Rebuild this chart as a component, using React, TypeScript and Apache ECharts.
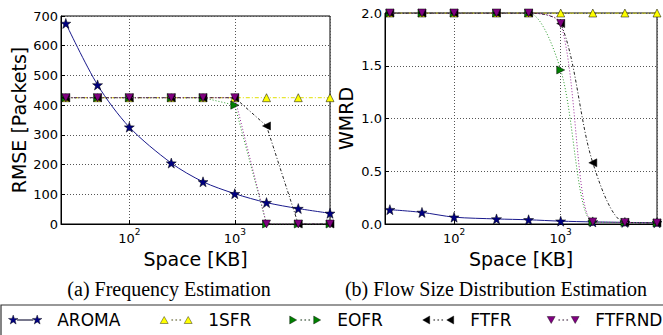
import React, { useEffect, useRef } from "react";
import * as echarts from "echarts";

const xValues = [25, 50, 100, 250, 500, 1000, 2000, 4000, 8000];

const rmseAROMA = [675, 468, 326, 205, 142, 102, 72, 52, 36];
const rmse1SFR = [425, 425, 425, 425, 425, 425, 425, 425, 425];
const rmseEOFR = [425, 425, 425, 425, 425, 400, 0, 0, 0];
const rmseFTFR = [425, 425, 425, 425, 425, 425, 330, 0, 0];
const rmseFTFRND = [425, 425, 425, 425, 425, 425, 0, 0, 0];

const wmrdAROMA = [0.136, 0.11, 0.065, 0.048, 0.04, 0.027, 0.02, 0.015, 0.012];
const wmrd1SFR = [2, 2, 2, 2, 2, 2, 2, 2, 2];
const wmrdEOFR = [2, 2, 2, 2, 2, 1.46, 0.02, 0.015, 0.01];
const wmrdFTFR = [2, 2, 2, 2, 2, 1.9, 0.58, 0.015, 0.01];
const wmrdFTFRND = [2, 2, 2, 2, 2, 1.9, 0.02, 0.015, 0.01];

const seriesNames = ["AROMA", "1SFR", "EOFR", "FTFR", "FTFRND"];
const rmseTickValues = [0, 100, 200, 300, 400, 500, 600, 700];
const wmrdTickValues = [0, 0.5, 1.0, 1.5, 2.0];
const captionA = "(a) Frequency Estimation";
const captionB = "(b) Flow Size Distribution Estimation";

const FONT = "DejaVu Sans";

const STAR =
  "path://M5,0L6.18,3.38L9.76,3.46L6.9,5.62L7.94,9.05L5,7L2.06,9.05L3.1,5.62L0.24,3.46L3.82,3.38Z";
const TRI_RIGHT = "path://M0,0L10,5L0,10Z";
const TRI_LEFT = "path://M10,0L0,5L10,10Z";
const TRI_DOWN = "path://M0,0L10,0L5,10Z";
const TRI_UP = "path://M0,10L5,0L10,10Z";

function shift(pts: number[][], dx: number) {
  return pts.map((p) => [p[0] + dx, p[1]]);
}
function poly(pts: number[][]) {
  return "M" + pts.map((p) => p[0].toFixed(2) + "," + p[1].toFixed(2)).join("L") + "Z";
}
const starPts = [
  [5, 0], [6.18, 3.38], [9.76, 3.46], [6.9, 5.62], [7.94, 9.05],
  [5, 7], [2.06, 9.05], [3.1, 5.62], [0.24, 3.46], [3.82, 3.38],
];
const upPts = [[1, 8.5], [5, 1.5], [9, 8.5]];
const rightPts = [[1.5, 1], [8.5, 5], [1.5, 9]];
const leftPts = [[8.5, 1], [1.5, 5], [8.5, 9]];
const downPts = [[1, 1.5], [9, 1.5], [5, 8.5]];
const solidBar = "M9,4.75L25,4.75L25,5.25L9,5.25Z";
const dotBar =
  "M12.5,4.7L13.5,4.7L13.5,5.3L12.5,5.3Z M16.5,4.7L17.5,4.7L17.5,5.3L16.5,5.3Z M20.5,4.7L21.5,4.7L21.5,5.3L20.5,5.3Z";
const frame = "M0,0L0.01,0L0.01,0.01L0,0.01Z M33.99,9.99L34,9.99L34,10L33.99,10Z";
const legendIcons = [
  "path://" + poly(starPts) + " " + poly(shift(starPts, 24)) + " " + solidBar + " " + frame,
  "path://" + poly(upPts) + " " + poly(shift(upPts, 24)) + " " + dotBar + " " + frame,
  "path://" + poly(rightPts) + " " + poly(shift(rightPts, 24)) + " " + dotBar + " " + frame,
  "path://" + poly(leftPts) + " " + poly(shift(leftPts, 24)) + " " + dotBar + " " + frame,
  "path://" + poly(downPts) + " " + poly(shift(downPts, 24)) + " " + dotBar + " " + frame,
];
const legendCenters = [25, 176, 305, 438, 563];

const colors = ["#000080", "#ffff00", "#008000", "#000000", "#800080"];
const lineColors = ["#1a1a8c", "#e0e000", "#2a9a2a", "#222222", "#9a2a9a"];
const symbols = [STAR, TRI_UP, TRI_RIGHT, TRI_LEFT, TRI_DOWN];
const lineTypes: any[] = ["solid", [4, 2, 1, 2], [1, 2], [3, 2, 1, 2], [1, 2]];

function pair(ys: number[]) {
  return xValues.map((x, i) => [x, ys[i]]);
}

function makeSeries(idx: number, data: number[], gridIdx: number, smooth: any) {
  return {
    type: "line",
    name: seriesNames[idx],
    xAxisIndex: gridIdx,
    yAxisIndex: gridIdx,
    data: pair(data),
    symbol: symbols[idx],
    symbolSize: idx === 0 ? 10 : 8,
    smooth,
    itemStyle: { color: colors[idx], borderColor: "#000", borderWidth: 0.5 },
    lineStyle: { color: lineColors[idx], width: 1, type: lineTypes[idx] },
    emphasis: { disabled: true },
    z: 2 + idx,
  };
}

function xAxisDef(gridIndex: number) {
  return {
    type: "log",
    gridIndex,
    logBase: 10,
    min: 22.5,
    max: 8000,
    name: "Space [KB]",
    nameLocation: "middle",
    nameGap: 17,
    nameTextStyle: { fontFamily: FONT, fontSize: 19, color: "#000" },
    axisLine: { show: true, lineStyle: { color: "#000", width: 1 } },
    axisTick: { show: true, inside: true, length: 4, lineStyle: { color: "#000" } },
    splitLine: { show: true, lineStyle: { color: "#555", type: [1, 2], width: 1 } },
    axisLabel: {
      showMinLabel: false,
      showMaxLabel: false,
      margin: 3,
      color: "#000",
      fontFamily: FONT,
      formatter: (v: number) => {
        const e = Math.log10(v);
        const r = Math.round(e);
        if (Math.abs(e - r) < 1e-6) return "{b|10}{s|" + r + "}";
        return "";
      },
      rich: {
        b: { fontFamily: FONT, fontSize: 13, color: "#000", lineHeight: 18, verticalAlign: "bottom" },
        s: { fontFamily: FONT, fontSize: 9, color: "#000", lineHeight: 18, verticalAlign: "top" },
      },
    },
  };
}

export default function App() {
  const ref = useRef<HTMLDivElement>(null);
  useEffect(() => {
    if (!ref.current) return;
    const chart = echarts.init(ref.current, null, { renderer: "svg" });
    const legends = seriesNames.map((n, i) => ({
      data: [n],
      left: legendCenters[i] - 17,
      top: 310,
      itemWidth: 34,
      itemHeight: 10,
      itemGap: 0,
      padding: 0,
      icon: legendIcons[i],
      symbolKeepAspect: true,
      selectedMode: false,
      itemStyle: { borderWidth: 0.4 },
      textStyle: { fontFamily: FONT, fontSize: 17, color: "#000", lineHeight: 20, padding: [0, 0, 0, 10] },
    }));
    chart.setOption({
      animation: false,
      textStyle: { fontFamily: FONT },
      grid: [
        { left: 61, top: 16, width: 269, height: 208, show: true, borderColor: "#000", borderWidth: 1 },
        { left: 385, top: 13, width: 272, height: 211, show: true, borderColor: "#000", borderWidth: 1 },
      ],
      legend: legends,
      xAxis: [xAxisDef(0), xAxisDef(1)],
      yAxis: [
        {
          type: "value",
          gridIndex: 0,
          min: rmseTickValues[0],
          max: rmseTickValues[rmseTickValues.length - 1],
          interval: 100,
          name: "RMSE [Packets]",
          nameLocation: "middle",
          nameGap: 33,
          nameTextStyle: { fontFamily: FONT, fontSize: 19, color: "#000" },
          axisLine: { show: true, lineStyle: { color: "#000" } },
          axisTick: { show: true, inside: true, length: 4, lineStyle: { color: "#000" } },
          splitLine: { show: true, lineStyle: { color: "#555", type: [1, 2], width: 1 } },
          axisLabel: { margin: 3, fontFamily: FONT, fontSize: 13, color: "#000" },
        },
        {
          type: "value",
          gridIndex: 1,
          min: wmrdTickValues[0],
          max: wmrdTickValues[wmrdTickValues.length - 1],
          interval: 0.5,
          name: "WMRD",
          nameLocation: "middle",
          nameGap: 30,
          nameTextStyle: { fontFamily: FONT, fontSize: 19, color: "#000" },
          axisLine: { show: true, lineStyle: { color: "#000" } },
          axisTick: { show: true, inside: true, length: 4, lineStyle: { color: "#000" } },
          splitLine: { show: true, lineStyle: { color: "#555", type: [1, 2], width: 1 } },
          axisLabel: {
            margin: 3,
            fontFamily: FONT,
            fontSize: 13,
            color: "#000",
            formatter: (v: number) => v.toFixed(1),
          },
        },
      ],
      series: [
        makeSeries(0, rmseAROMA, 0, 0.3),
        makeSeries(1, rmse1SFR, 0, false),
        makeSeries(2, rmseEOFR, 0, false),
        makeSeries(3, rmseFTFR, 0, false),
        makeSeries(4, rmseFTFRND, 0, false),
        makeSeries(0, wmrdAROMA, 1, 0.3),
        makeSeries(1, wmrd1SFR, 1, false),
        makeSeries(2, wmrdEOFR, 1, 0.3),
        makeSeries(3, wmrdFTFR, 1, 0.3),
        makeSeries(4, wmrdFTFRND, 1, 0.3),
      ],
      graphic: [
        {
          type: "text",
          x: 169,
          y: 289,
          style: {
            text: captionA,
            font: '20px "Liberation Serif"',
            fill: "#000",
            textAlign: "center",
            textVerticalAlign: "middle",
          },
        },
        {
          type: "text",
          x: 496,
          y: 289,
          style: {
            text: captionB,
            font: '20px "Liberation Serif"',
            fill: "#000",
            textAlign: "center",
            textVerticalAlign: "middle",
          },
        },
        {
          type: "rect",
          shape: { x: 1, y: 305, width: 670, height: 40 },
          style: { fill: "none", stroke: "#333", lineWidth: 1.2 },
          z: -1,
        },
      ],
    });
    return () => chart.dispose();
  }, []);
  return (
    <div
      ref={ref}
      style={{ position: "absolute", left: 0, top: 0, width: 663, height: 335 }}
    />
  );
}
